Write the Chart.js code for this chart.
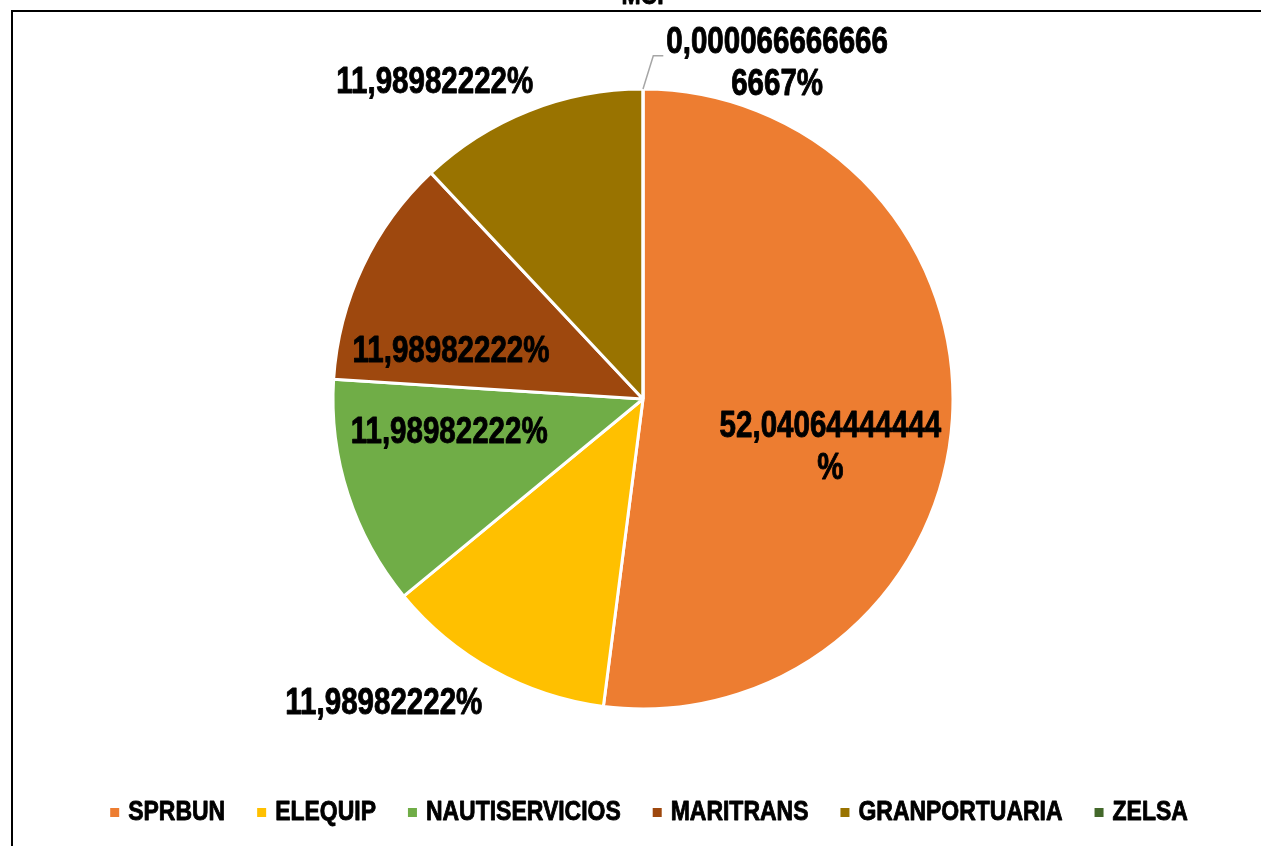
<!DOCTYPE html>
<html>
<head>
<meta charset="utf-8">
<script src="https://cdn.jsdelivr.net/npm/chart.js@4/dist/chart.umd.min.js"></script>
<style>
  html, body { margin: 0; padding: 0; background: #fff; }
  #wrap { width: 1261px; height: 846px; }
</style>
</head>
<body>
<div id="wrap"><canvas id="mcpChart" width="1261" height="846"></canvas></div>
<script>
const chartTitle = 'MCP';
const categories = ['SPRBUN', 'ELEQUIP', 'NAUTISERVICIOS', 'MARITRANS', 'GRANPORTUARIA', 'ZELSA'];
const shares = [52.04064444444, 11.98982222, 11.98982222, 11.98982222, 11.98982222, 0.0000666666666667];
const sliceColors = ['#ED7D31', '#FFC000', '#70AD47', '#9E480E', '#997300', '#43682B'];

// no narrow font installed, so squeeze Liberation Sans Bold sideways
const FONT = '"Liberation Sans", Arial, sans-serif';
const SQUEEZE = 0.82;

// where each data label sits: angle shift from slice middle (deg) and distance as part of radius
const labelPlace = [
    { dA: 11, f: 0.625 },
    { dA: 11.4, f: 1.292 },
    { dA: 7.8, f: 0.635 },
    { dA: -11.4, f: 0.638 },
    { dA: -11.8, f: 1.221 },
    { dA: 21.8, f: 1.165, leader: true }
];

function wrapLabel(txt, maxChars) {
    const lines = [];
    for (let i = 0; i < txt.length; i += maxChars) lines.push(txt.slice(i, i + maxChars));
    return lines;
}

function narrowText(c, txt, x, y) {
    c.save();
    c.translate(x, y);
    c.scale(SQUEEZE, 1);
    c.strokeStyle = c.fillStyle;
    c.lineWidth = 0.9;
    c.lineJoin = 'round';
    c.strokeText(txt, 0, 0);
    c.fillText(txt, 0, 0);
    c.restore();
}

const framePlugin = {
    id: 'frame',
    beforeDraw(chart) {
        const c = chart.ctx;
        c.save();
        c.fillStyle = '#fff';
        c.fillRect(0, 0, chart.width, chart.height);
        c.strokeStyle = '#000';
        c.lineWidth = 2;
        c.beginPath();
        c.moveTo(12, chart.height);
        c.lineTo(12, 11);
        c.lineTo(chart.width, 11);
        c.stroke();
        // title, mostly cut off above the frame
        c.fillStyle = '#000';
        c.font = 'bold 28px ' + FONT;
        c.textAlign = 'center';
        c.textBaseline = 'alphabetic';
        narrowText(c, chartTitle, 647, 4);
        c.restore();
    }
};

const legendPlugin = {
    id: 'narrowLegend',
    afterDraw(chart) {
        const c = chart.ctx;
        c.save();
        c.font = 'bold 28px ' + FONT;
        c.textAlign = 'left';
        c.textBaseline = 'middle';
        const box = 9, toText = 18, gap = 32, y = 812;
        const widths = categories.map(t => c.measureText(t).width * SQUEEZE);
        let total = widths.reduce((s, w) => s + toText + w, 0) + gap * (categories.length - 1);
        let x = 649 - total / 2;
        categories.forEach((name, i) => {
            c.fillStyle = sliceColors[i];
            c.fillRect(x, y - 4, box, box);
            c.fillStyle = '#000';
            narrowText(c, name, x + toText, y);
            x += toText + widths[i] + gap;
        });
        c.restore();
    }
};

const labelPlugin = {
    id: 'pctLabels',
    afterDatasetsDraw(chart) {
        const c = chart.ctx;
        const arcs = chart.getDatasetMeta(0).data;
        c.save();
        c.font = 'bold 36px ' + FONT;
        c.fillStyle = '#000';
        c.textAlign = 'center';
        c.textBaseline = 'middle';
        arcs.forEach((arc, i) => {
            const p = labelPlace[i];
            const mid = (arc.startAngle + arc.endAngle) / 2;
            const a = mid + p.dA * Math.PI / 180;
            const d = arc.outerRadius * p.f;
            const cx = arc.x + Math.cos(a) * d;
            const cy = arc.y + Math.sin(a) * d;
            const txt = String(shares[i]).replace('.', ',') + '%';
            const lines = wrapLabel(txt, 14);
            const lh = 42;
            const y0 = cy - (lines.length - 1) * lh / 2;
            lines.forEach((ln, k) => narrowText(c, ln, cx, y0 + k * lh));
            if (p.leader) {
                const w = Math.max(...lines.map(l => c.measureText(l).width)) * SQUEEZE;
                const ex = cx - w / 2 - 3;
                const ey = y0 + 13;
                const sx = arc.x + Math.cos(mid) * arc.outerRadius;
                const sy = arc.y + Math.sin(mid) * arc.outerRadius;
                c.strokeStyle = '#A6A6A6';
                c.lineWidth = 1.5;
                c.beginPath();
                c.moveTo(sx, sy);
                c.lineTo(ex - 10, ey);
                c.lineTo(ex, ey);
                c.stroke();
            }
        });
        c.restore();
    }
};

const ctx = document.getElementById('mcpChart').getContext('2d');
const mcpChart = new Chart(ctx, {
    type: 'pie',
    data: {
        labels: categories,
        datasets: [{
            data: shares,
            backgroundColor: sliceColors,
            borderColor: '#fff',
            borderWidth: 3
        }]
    },
    options: {
        responsive: false,
        animation: false,
        events: [],
        radius: 310,
        layout: { padding: { top: 0, bottom: 48, left: 25, right: 0 } },
        plugins: {
            title: { display: false },
            tooltip: { enabled: false },
            legend: { display: false }
        }
    },
    plugins: [framePlugin, labelPlugin, legendPlugin]
});
</script>
</body>
</html>
